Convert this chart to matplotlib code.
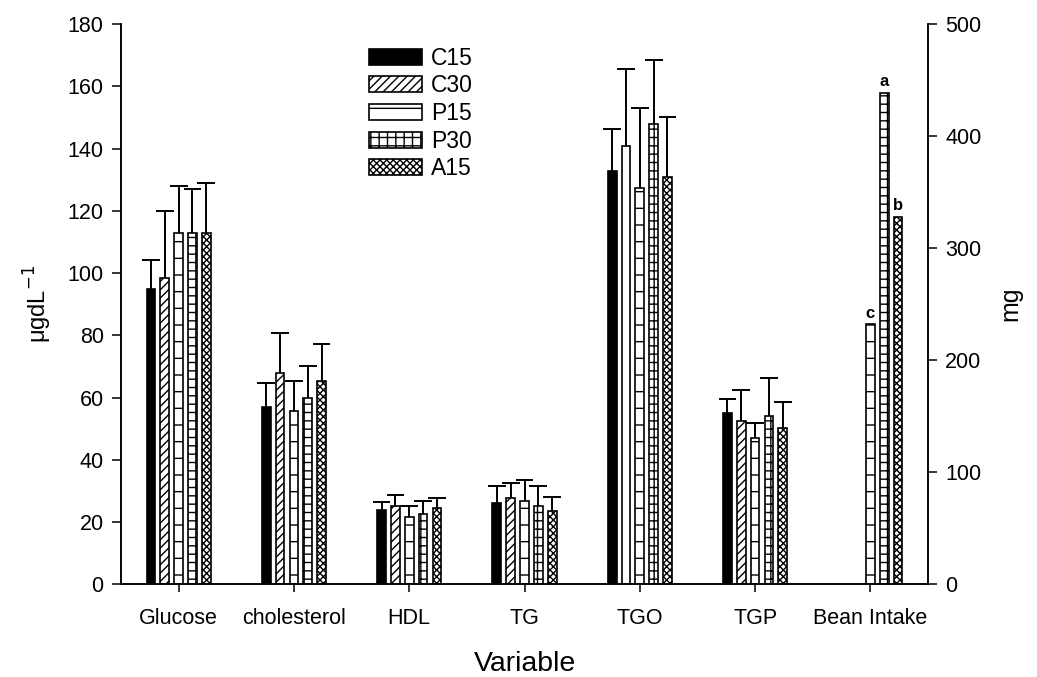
import numpy as np
import matplotlib.pyplot as plt

plt.rcParams.update({
    "font.family": ["Liberation Sans", "DejaVu Sans"],
    "font.size": 15.5,
    "hatch.linewidth": 1.0,
    "axes.linewidth": 1.1,
})

variables = ["Glucose", "cholesterol", "HDL", "TG", "TGO", "TGP", "Bean Intake"]
groups = ["C15", "C30", "P15", "P30", "A15"]

# means for the blood variables (left axis)
c15 = [94.8, 57.0, 23.9, 26.1, 132.8, 54.9]
c30 = [98.3, 68.0, 25.2, 27.7, 140.8, 52.5]
p15 = [113.0, 55.7, 21.5, 26.8, 127.2, 46.9]
p30 = [113.0, 59.8, 22.6, 25.3, 147.9, 54.2]
a15 = [113.0, 65.3, 24.5, 23.4, 130.9, 50.3]

# tops of the error bars
c15_top = [104.2, 64.6, 26.4, 31.6, 146.3, 59.4]
c30_top = [120.0, 80.8, 28.7, 32.4, 165.4, 62.4]
p15_top = [128.0, 65.3, 25.3, 33.4, 152.9, 51.9]
p30_top = [127.0, 70.2, 26.7, 31.6, 168.4, 66.3]
a15_top = [129.0, 77.1, 27.7, 28.0, 150.0, 58.5]

# bean intake (right axis, mg)
intake_groups = ["P15", "P30", "A15"]
intake = [232, 438.7, 328]
intake_letters = ["c", "a", "b"]

means = {"C15": c15, "C30": c30, "P15": p15, "P30": p30, "A15": a15}
tops = {"C15": c15_top, "C30": c30_top, "P15": p15_top, "P30": p30_top, "A15": a15_top}

styles = {
    "C15": dict(facecolor="black", hatch=None),
    "C30": dict(facecolor="white", hatch="////"),
    "P15": dict(facecolor="white", hatch="-"),
    "P30": dict(facecolor="white", hatch="++"),
    "A15": dict(facecolor="white", hatch="xxxxx"),
}

fig = plt.figure(figsize=(10.37, 6.77), dpi=100)
ax = fig.add_axes([0.1167, 0.1369, 0.7782, 0.8276])
ax2 = ax.twinx()

x = np.arange(len(variables))
pitch = 0.12
width = 0.076
cap = 0.077

for i, g in enumerate(groups):
    xs = x[:6] + (i - 2) * pitch
    vals = np.array(means[g])
    top = np.array(tops[g])
    bars = ax.bar(xs, vals, width, edgecolor="black", linewidth=1.2,
                  label=g, zorder=2, **styles[g])
    # in the original the C30 bar of TGO has no hatch
    if g == "C30":
        bars[4].set_hatch(None)
    # error bars: only the upper half, starting at the bar top
    ax.vlines(xs, vals, top, color="black", linewidth=1.4, zorder=1)
    ax.hlines(top, xs - cap, xs + cap, color="black", linewidth=1.4, zorder=1)

for j, g in enumerate(intake_groups):
    i = groups.index(g)
    xb = x[6] + (i - 2) * pitch
    ax2.bar(xb, intake[j], width, edgecolor="black", linewidth=1.2, **styles[g])
    ax2.text(xb, intake[j] + 3, intake_letters[j], ha="center", va="bottom",
             fontsize=12, fontweight="bold")

ax.set_xlim(-0.5, 6.5)
ax.set_ylim(0, 180)
ax.set_yticks(np.arange(0, 181, 20))
ax2.set_ylim(0, 500)
ax2.set_yticks(np.arange(0, 501, 100))

for a in (ax, ax2):
    a.spines["top"].set_visible(False)

ax.set_xticks(x)
ax.set_xticklabels(variables)
ax.tick_params(axis="x", length=6, width=1.1, pad=11)
ax.tick_params(axis="y", length=6.5, width=1.1, pad=6)
ax2.tick_params(axis="y", length=6.5, width=1.1, pad=6)

ax.set_xlabel("Variable", fontsize=20.5, labelpad=16)
ax.set_ylabel(r"μgdL$^{-1}$", fontsize=17, labelpad=10)
ax2.set_ylabel("mg", fontsize=18, labelpad=12)

ax.legend(loc="upper left", bbox_to_anchor=(0.282, 0.996), frameon=False,
          handlelength=2.3, handleheight=0.7, labelspacing=0.2, handletextpad=0.4,
          fontsize=16.5)

fig.savefig("out.png", dpi=100)
